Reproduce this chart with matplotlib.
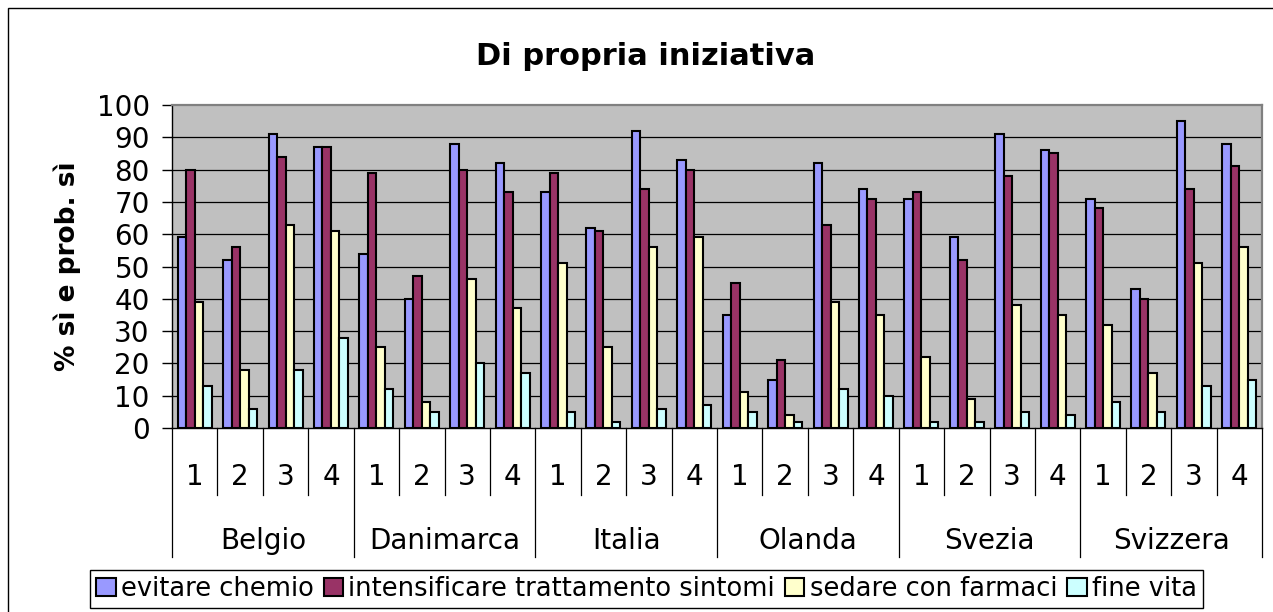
import numpy as np
import matplotlib
matplotlib.use("Agg")
from matplotlib import pyplot as plt
from matplotlib.patches import Rectangle

countries = ["Belgio", "Danimarca", "Italia", "Olanda", "Svezia", "Svizzera"]
subgroups = ["1", "2", "3", "4"]
series_names = ["evitare chemio", "intensificare trattamento sintomi",
                "sedare con farmaci", "fine vita"]

evitare_chemio = [59, 52, 91, 87, 54, 40, 88, 82, 73, 62, 92, 83,
                  35, 15, 82, 74, 71, 59, 91, 86, 71, 43, 95, 88]
intensificare = [80, 56, 84, 87, 79, 47, 80, 73, 79, 61, 74, 80,
                 45, 21, 63, 71, 73, 52, 78, 85, 68, 40, 74, 81]
sedare = [39, 18, 63, 61, 25, 8, 46, 37, 51, 25, 56, 59,
          11, 4, 39, 35, 22, 9, 38, 35, 32, 17, 51, 56]
fine_vita = [13, 6, 18, 28, 12, 5, 20, 17, 5, 2, 6, 7,
             5, 2, 12, 10, 2, 2, 5, 4, 8, 5, 13, 15]

colors = ["#9999FF", "#993366", "#FFFFCC", "#CCFFFF"]

W, H = 1273, 612
fig = plt.figure(figsize=(W / 100, H / 100), dpi=100)
fig.patch.set_facecolor("white")

# outer chart border (only left/top visible in the picture)
fig.patches.append(Rectangle((8 / W, -0.1), 1.2, (H - 8) / H + 0.1,
                             transform=fig.transFigure, fill=False,
                             ec="black", lw=1.0))

ax = fig.add_axes([172 / W, (H - 428) / H, (1262 - 172) / W, (428 - 105) / H])
ax.set_facecolor("#C0C0C0")

n = len(countries) * len(subgroups)
x = np.arange(n)
bw = 0.1875
all_series = [evitare_chemio, intensificare, sedare, fine_vita]
for i in range(len(all_series)):
    ax.bar(x + (i - 1.5) * bw, all_series[i], width=bw, color=colors[i],
           edgecolor="black", linewidth=1.5, label=series_names[i], zorder=3)

ax.set_xlim(-0.5, n - 0.5)
ax.set_ylim(0, 100)
ax.set_yticks(range(0, 101, 10))
ax.tick_params(axis="y", labelsize=20, length=7, width=1, pad=9, direction="out")
ax.set_xticks([])
for yv in range(10, 100, 10):
    ax.axhline(yv, color="black", lw=0.9, zorder=1)

ax.spines["left"].set_color("black")
ax.spines["bottom"].set_color("black")
ax.spines["left"].set_linewidth(1)
ax.spines["bottom"].set_linewidth(1)
ax.spines["top"].set_color("#808080")
ax.spines["right"].set_color("#808080")
ax.spines["top"].set_linewidth(1.6)
ax.spines["right"].set_linewidth(1.6)

# hierarchical category axis
tr = ax.get_xaxis_transform()
for k in range(n + 1):
    bottom = -0.399 if k % 4 == 0 else -0.2074
    ax.plot([k - 0.5, k - 0.5], [0, bottom], color="black", lw=0.9,
            transform=tr, clip_on=False)
for k in range(n):
    ax.text(k, -0.1765, subgroups[k % 4], transform=tr, ha="center",
            va="baseline", fontsize=20)
for c in range(len(countries)):
    ax.text(c * 4 + 1.5, -0.376, countries[c], transform=tr, ha="center",
            va="baseline", fontsize=20)

fig.text(0.507, (H - 65) / H, "Di propria iniziativa", ha="center",
         va="baseline", fontsize=22, fontweight="bold")
fig.text(67 / W, (H - 266) / H, "% sì e prob. sì", rotation=90, ha="center",
         va="center", fontsize=19, fontweight="bold")

leg = ax.legend(loc="center", bbox_to_anchor=(646.5 / W, (H - 589) / H),
                bbox_transform=fig.transFigure, ncol=4, fontsize=18.5,
                frameon=True, fancybox=False, framealpha=1, edgecolor="black",
                handlelength=0.75, handleheight=0.75, handletextpad=0.2,
                columnspacing=0.4, borderpad=0.25, borderaxespad=0)
leg.get_frame().set_linewidth(1.0)

fig.savefig("out.png", dpi=100)
